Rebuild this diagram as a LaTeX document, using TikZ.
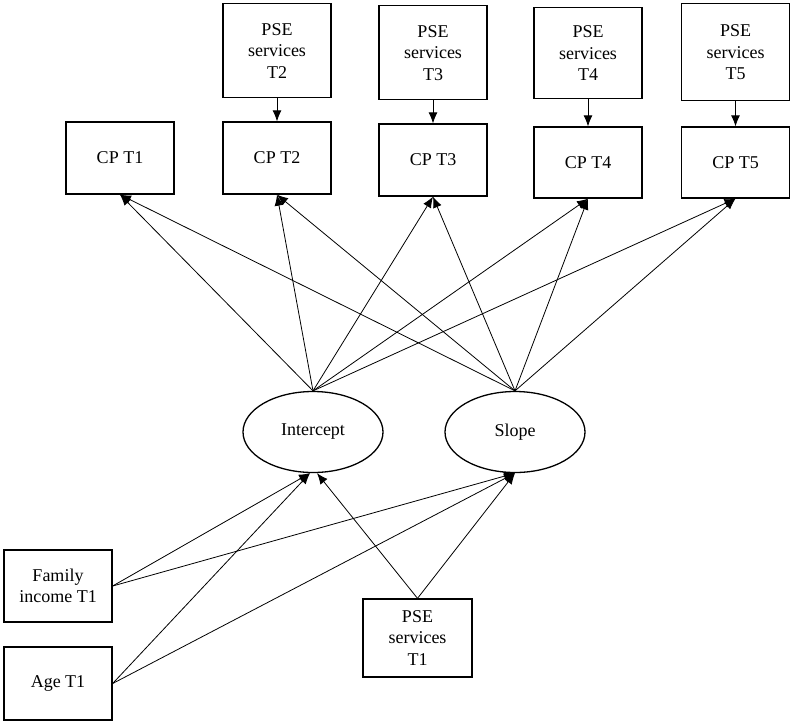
\documentclass[tikz,border=0pt]{standalone}
\usepackage{fontspec}
\setmainfont{Liberation Serif}
\usepackage{tikz}
\usetikzlibrary{arrows.meta,positioning,shapes.geometric}
\tikzset{
  obs/.style={
    draw=black,
    line width=1.3pt,
    fill=white,
    align=center,
    minimum width=108pt,
    minimum height=72pt,
    inner sep=3pt,
    font=\fontsize{18}{21.5}\selectfont
  },
  lat/.style={
    ellipse,
    draw=black,
    line width=1.3pt,
    fill=white,
    minimum width=140pt,
    minimum height=81pt,
    inner sep=2pt,
    font=\fontsize{18}{21.5}\selectfont
  },
  arrow/.style={
    -{Latex[length=11pt,width=9pt]},
    line width=.8pt,
    black
  }
}

\begin{document}
\begin{tikzpicture}[x=1pt,y=1pt,node distance=24pt]
\useasboundingbox (0,0) rectangle (794,-724);
\node[obs] (c1) at (120,-158) {CP T1};
\node[obs] (c2) at (277,-158) {CP T2};
\node[obs] (c3) at (433,-160) {CP T3};
\node[obs,minimum height=71pt] (c4) at (588,-162.5) {CP T4};
\node[obs,minimum height=71pt] (c5) at (735.5,-162.5) {CP T5};
\node[obs,minimum height=94pt,above=23pt of c2] (p2) {PSE\\services\\T2};
\node[obs,minimum height=94pt,above=23pt of c3] (p3) {PSE\\services\\T3};
\node[obs,minimum height=91pt,above=27pt of c4] (p4) {PSE\\services\\T4};
\node[obs,minimum height=97pt,above=25pt of c5] (p5) {PSE\\services\\T5};
\node[lat] (i) at (313,-432) {Intercept};
\node[lat] (s) at (515,-432) {Slope};
\node[obs] (f) at (58,-586) {Family\\income T1};
\node[obs,minimum height=73pt] (a) at (58,-683.5) {Age T1};
\node[obs,minimum width=109pt,minimum height=78pt] (p1) at (417.5,-638) {PSE\\services\\T1};
% services over time
\draw[arrow] (p2) -- (c2);
\draw[arrow] (p3) -- (c3);
\draw[arrow] (p4) -- (c4);
\draw[arrow] (p5) -- (c5);
% growth factors
\draw[arrow] (i.north) -- (c1.south);
\draw[arrow] (i.north) -- (c2.south);
\draw[arrow] (i.north) -- (c3.south);
\draw[arrow] (i.north) -- (c4.south);
\draw[arrow] (i.north) -- (c5.south);
\draw[arrow] (s.north) -- (c1.south);
\draw[arrow] (s.north) -- (c2.south);
\draw[arrow] (s.north) -- (c3.south);
\draw[arrow] (s.north) -- (c4.south);
\draw[arrow] (s.north) -- (c5.south);
% covariates
\draw[arrow] (f.east) -- ([xshift=-3pt]i.south);
\draw[arrow] (f.east) -- (s.south);
\draw[arrow] (a.east) -- ([xshift=-3pt]i.south);
\draw[arrow] (a.east) -- (s.south);
\draw[arrow] (p1.north) -- ([xshift=4pt]i.south);
\draw[arrow] (p1.north) -- (s.south);
\end{tikzpicture}
\end{document}
